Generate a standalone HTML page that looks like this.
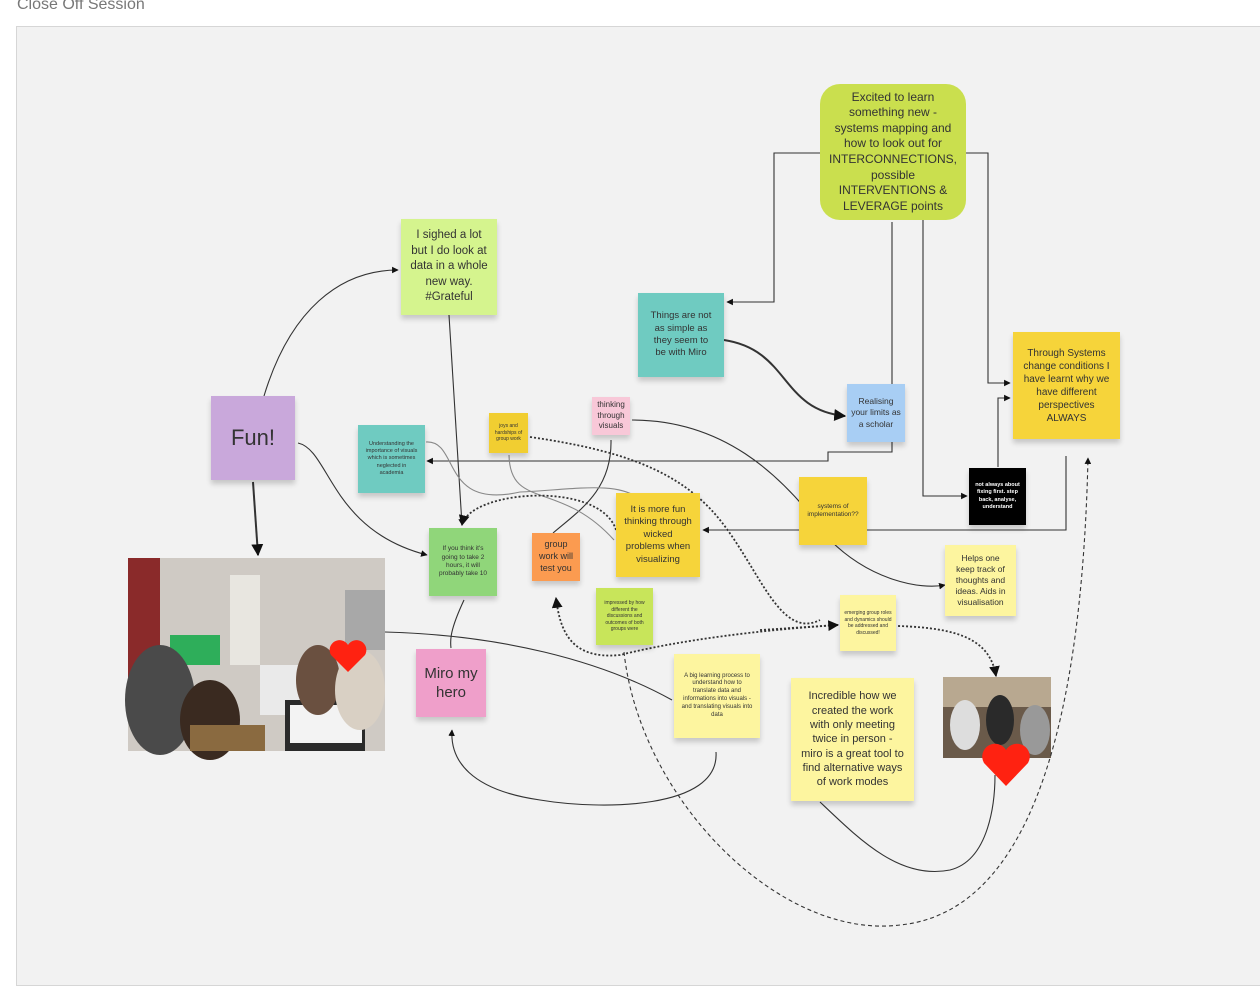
<!DOCTYPE html>
<html><head><meta charset="utf-8"><style>
*{margin:0;padding:0;box-sizing:border-box}
body{width:1260px;height:973px;background:#fff;position:relative;overflow:hidden;font-family:"Liberation Sans",sans-serif}
.frame{position:absolute;left:16px;top:26px;width:1260px;height:960px;background:#f2f2f2;border:1px solid #d6d6d6}
.t{position:absolute;left:17px;top:-4px;font-size:16px;color:#777}
.n{position:absolute;display:flex;align-items:center;justify-content:center;text-align:center;color:#333;box-shadow:0 4px 5px rgba(0,0,0,.18);line-height:1.3;padding:3px 6px}
svg{position:absolute;left:0;top:0}
</style></head><body>
<div class="frame"></div>
<div class="t">Close Off Session</div>

<svg width="1260" height="973" viewBox="0 0 1260 973" fill="none" stroke="#333" stroke-width="1.1">
<defs><marker id="a" viewBox="0 0 10 10" refX="9" refY="5" markerWidth="6" markerHeight="6" orient="auto"><path d="M0,0L10,5L0,10z" fill="#111" stroke="none"/></marker></defs>
<g stroke="none">
<rect x="128" y="558" width="257" height="193" fill="#cfcac4"/>
<rect x="128" y="558" width="32" height="120" fill="#8a2a2a"/>
<rect x="230" y="575" width="30" height="90" fill="#e8e6e0"/>
<rect x="345" y="590" width="40" height="60" fill="#a8a8a8"/>
<rect x="170" y="635" width="50" height="30" fill="#2eae5a"/>
<ellipse cx="160" cy="700" rx="35" ry="55" fill="#4a4a4a"/>
<ellipse cx="210" cy="720" rx="30" ry="40" fill="#3a2a20"/>
<rect x="190" y="725" width="75" height="26" fill="#8a6a40"/>
<rect x="260" y="665" width="70" height="50" fill="#eaeaea"/>
<rect x="285" y="700" width="80" height="51" fill="#2a2a2a"/>
<rect x="290" y="705" width="72" height="38" fill="#f3f3f3"/>
<ellipse cx="318" cy="680" rx="22" ry="35" fill="#6a5040"/>
<ellipse cx="360" cy="690" rx="25" ry="40" fill="#d9d0c4"/>
<rect x="943" y="677" width="108" height="81" fill="#6a5a4a"/>
<rect x="943" y="677" width="108" height="30" fill="#b8a890"/>
<ellipse cx="965" cy="725" rx="15" ry="25" fill="#ddd"/>
<ellipse cx="1000" cy="720" rx="14" ry="25" fill="#2a2a2a"/>
<ellipse cx="1035" cy="730" rx="15" ry="25" fill="#999"/>
<path d="M348,672 L331,655 A9,9 0 0 1 348,645 A9,9 0 0 1 365,655 Z" fill="#f21"/>
<path d="M1006,786 L984,763 A11,11 0 0 1 1006,750 A11,11 0 0 1 1028,763 Z" fill="#f21"/>
</g>
<path d="M820,153 H774 V302 H727" marker-end="url(#a)"/>
<path d="M966,153 H988 V383 H1010" marker-end="url(#a)"/>
<path d="M923,220 V496 H967" marker-end="url(#a)"/>
<path d="M892,222 V452 H828 V461 H427" marker-end="url(#a)"/>
<path d="M998,467 V398 H1010" marker-end="url(#a)"/>
<path d="M1066,456 V530 H703" marker-end="url(#a)"/>
<path d="M449,315 L462,525" marker-end="url(#a)"/>
<path d="M724,340 C790,350 780,410 845,416" stroke-width="2" marker-end="url(#a)"/>
<path d="M253,482 L258,555" stroke-width="2" marker-end="url(#a)"/>
<path d="M264,396 C290,310 340,270 398,270" marker-end="url(#a)"/>
<path d="M298,443 C330,450 330,530 427,555" marker-end="url(#a)"/>
<path d="M553,533 C580,510 612,490 611,440"/>
<path d="M509,455 C510,510 560,480 614,540" stroke="#888"/>
<path d="M426,442 C460,440 440,510 520,492 C570,490 620,480 640,500" stroke="#888"/>
<path d="M632,420 C720,420 780,470 830,540 C870,580 920,590 945,585" marker-end="url(#a)"/>
<path d="M385,632 C500,635 600,660 672,700"/>
<path d="M464,600 C450,630 450,640 451,648"/>
<path d="M716,752 C720,810 600,810 540,800 C470,790 450,760 452,730" marker-end="url(#a)"/>
<path d="M820,802 C860,840 900,880 950,870 C990,860 995,800 995,775"/>
<g stroke-dasharray="2,2" stroke-width="1.8">
<path d="M530,437 C620,450 680,470 720,520 C760,570 780,640 820,620" />
<path d="M616,530 C600,480 470,490 462,525" marker-end="url(#a)"/>
<path d="M838,625 C760,630 680,640 620,655 C570,660 560,630 556,598" marker-end="url(#a)"/>
<path d="M760,630 L838,625" marker-end="url(#a)"/>
<path d="M898,626 C960,628 990,640 996,676" marker-end="url(#a)"/>
</g>
<path d="M624,652 C640,800 780,940 900,925 C1000,915 1080,800 1088,458" stroke-dasharray="4,3" marker-end="url(#a)"/>
</svg>

<div class="n" style="left:820px;top:84px;width:146px;height:136px;background:#cadf4e;border-radius:20px;font-size:12px;box-shadow:none;padding:3px 12px">Excited to learn something new - systems mapping and how to look out for INTERCONNECTIONS, possible INTERVENTIONS &amp; LEVERAGE points</div>
<div class="n" style="left:401px;top:219px;width:96px;height:96px;background:#d5f48e;font-size:11.5px;line-height:1.35;padding:3px 8px">I sighed a lot but I do look at data in a whole new way. #Grateful</div>
<div class="n" style="left:638px;top:293px;width:86px;height:84px;background:#6fcbc1;font-size:9.5px;padding:3px 10px">Things are not as simple as they seem to be with Miro</div>
<div class="n" style="left:1013px;top:332px;width:107px;height:107px;background:#f6d43a;font-size:10px;padding:3px 9px">Through Systems change conditions I have learnt why we have different perspectives ALWAYS</div>
<div class="n" style="left:847px;top:384px;width:58px;height:58px;background:#a8cef4;font-size:8.5px;padding:3px 4px">Realising your limits as a scholar</div>
<div class="n" style="left:211px;top:396px;width:84px;height:84px;background:#c9a8db;font-size:22px">Fun!</div>
<div class="n" style="left:358px;top:425px;width:67px;height:68px;background:#6fcbc1;font-size:5.5px">Understanding the importance of visuals which is sometimes neglected in academia</div>
<div class="n" style="left:489px;top:413px;width:39px;height:40px;background:#f1ce31;font-size:5px;padding:2px 4px">joys and hardships of group work</div>
<div class="n" style="left:592px;top:397px;width:38px;height:38px;background:#f8c8d8;font-size:8px;padding:2px">thinking through visuals</div>
<div class="n" style="left:969px;top:468px;width:57px;height:57px;background:#000;color:#fff;font-size:5.5px;font-weight:bold;padding:3px 4px">not always about fixing first. step back, analyse, understand</div>
<div class="n" style="left:799px;top:477px;width:68px;height:68px;background:#f6d43a;font-size:6.5px;padding:3px 2px">systems of implementation??</div>
<div class="n" style="left:616px;top:493px;width:84px;height:84px;background:#f6d43a;font-size:9.5px;padding:3px 8px">It is more fun thinking through wicked problems when visualizing</div>
<div class="n" style="left:429px;top:528px;width:68px;height:68px;background:#90d67a;font-size:6.5px;padding:3px 8px">If you think it's going to take 2 hours, it will probably take 10</div>
<div class="n" style="left:532px;top:533px;width:48px;height:48px;background:#fb9b50;font-size:9px;padding:2px 4px">group work will test you</div>
<div class="n" style="left:945px;top:545px;width:71px;height:71px;background:#fdf59f;font-size:8.5px;padding:3px 7px">Helps one keep track of thoughts and ideas. Aids in visualisation</div>
<div class="n" style="left:596px;top:588px;width:57px;height:57px;background:#c8e55a;font-size:5px;padding:3px 4px">impressed by how different the discussions and outcomes of both groups were</div>
<div class="n" style="left:840px;top:595px;width:56px;height:56px;background:#fdf59f;font-size:5px;padding:3px 4px">emerging group roles and dynamics should be addressed and discussed!</div>
<div class="n" style="left:416px;top:649px;width:70px;height:68px;background:#ef9fca;font-size:15px;padding:3px 5px">Miro my hero</div>
<div class="n" style="left:674px;top:654px;width:86px;height:84px;background:#fdf59f;font-size:6px;padding:3px 7px">A big learning process to understand how to translate data and informations into visuals - and translating visuals into data</div>
<div class="n" style="left:791px;top:678px;width:123px;height:123px;background:#fdf59f;font-size:11px;padding:3px 10px">Incredible how we created the work with only meeting twice in person - miro is a great tool to find alternative ways of work modes</div>
</body></html>
